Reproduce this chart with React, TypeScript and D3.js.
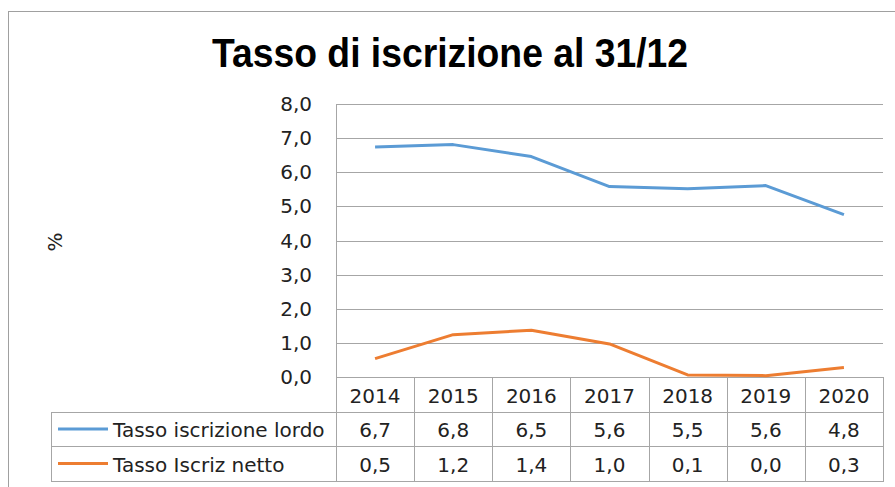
import React, { useEffect, useRef } from 'react';
import * as d3 from 'd3';

const years = ['2014', '2015', '2016', '2017', '2018', '2019', '2020'];
const lordo = [6.74, 6.81, 6.46, 5.58, 5.52, 5.61, 4.76];
const netto = [0.54, 1.24, 1.37, 0.97, 0.06, 0.04, 0.28];
const seriesNames = ['Tasso iscrizione lordo', 'Tasso Iscriz netto'];
const seriesColors = ['#5b9bd5', '#ed7d31'];
const yTicks = [0, 1, 2, 3, 4, 5, 6, 7, 8];

const W = 895;
const H = 487;

export default function App() {
    const ref = useRef<SVGSVGElement | null>(null);

    useEffect(() => {
        drawChart();
    });

    function drawChart() {
        const svg = d3.select(ref.current);
        svg.selectAll('*').remove();

        const it = d3.formatLocale({ decimal: ',', thousands: '.', grouping: [3], currency: ['', '€'] });
        const fmt = it.format('.1f');
        const font = 'DejaVu Sans, Verdana, sans-serif';
        const fs = 20;
        const txt = '#222';
        const grid = '#a6a6a6';

        // outer frame
        svg.append('rect')
            .attr('x', 8.5).attr('y', 11.5)
            .attr('width', W + 20).attr('height', H + 20)
            .attr('fill', 'none').attr('stroke', '#a0a0a0');

        // title
        svg.append('text')
            .attr('x', 450).attr('y', 67)
            .attr('text-anchor', 'middle')
            .attr('font-family', 'Liberation Sans, Arial, sans-serif')
            .attr('font-weight', 'bold')
            .attr('font-size', 40)
            .attr('textLength', 476)
            .attr('lengthAdjust', 'spacingAndGlyphs')
            .attr('fill', '#000')
            .text('Tasso di iscrizione al 31/12');

        const x = d3.scaleBand().domain(years).range([336, 883]);
        const y = d3.scaleLinear().domain([0, 8]).range([377, 104]);

        // gridlines
        svg.append('g').selectAll('line')
            .data(yTicks)
            .enter()
            .append('line')
            .attr('x1', 336).attr('x2', 883)
            .attr('y1', (d) => Math.round(y(d)) + 0.5)
            .attr('y2', (d) => Math.round(y(d)) + 0.5)
            .attr('stroke', grid);

        // plot left border
        svg.append('line')
            .attr('x1', 336.5).attr('x2', 336.5)
            .attr('y1', Math.round(y(8))).attr('y2', 481)
            .attr('stroke', grid);

        // y tick labels
        svg.append('g').selectAll('text')
            .data(yTicks)
            .enter()
            .append('text')
            .attr('x', 312)
            .attr('y', (d) => y(d))
            .attr('text-anchor', 'end')
            .attr('dominant-baseline', 'central')
            .attr('font-family', font)
            .attr('font-size', fs)
            .attr('fill', txt)
            .text((d) => fmt(d));

        // y axis title
        svg.append('text')
            .attr('transform', 'translate(62,242) rotate(-90)')
            .attr('text-anchor', 'middle')
            .attr('font-family', font)
            .attr('font-size', fs)
            .attr('fill', txt)
            .text('%');

        // lines
        const line = d3.line<number>()
            .x((_, i) => (x(years[i]) as number) + x.bandwidth() / 2)
            .y((d) => y(d));

        [lordo, netto].forEach((vals, k) => {
            svg.append('path')
                .attr('d', line(vals))
                .attr('fill', 'none')
                .attr('stroke', seriesColors[k])
                .attr('stroke-width', 3)
                .attr('stroke-linejoin', 'round');
        });

        // data table
        const rows = [377, 412, 446, 481];
        const table = svg.append('g');
        [1, 2, 3].forEach((r) => {
            table.append('line')
                .attr('x1', 51).attr('x2', 883)
                .attr('y1', rows[r] + 0.5).attr('y2', rows[r] + 0.5).attr('stroke', grid);
        });
        table.append('line')
            .attr('x1', 51.5).attr('x2', 51.5)
            .attr('y1', rows[1]).attr('y2', rows[3] + 1).attr('stroke', grid);

        table.selectAll('line.col')
            .data(years)
            .enter()
            .append('line')
            .attr('class', 'col')
            .attr('x1', (d) => Math.round((x(d) as number) + x.bandwidth()) + 0.5)
            .attr('x2', (d) => Math.round((x(d) as number) + x.bandwidth()) + 0.5)
            .attr('y1', rows[0]).attr('y2', rows[3] + 1)
            .attr('stroke', grid);

        table.selectAll('text.year')
            .data(years)
            .enter()
            .append('text')
            .attr('class', 'year')
            .attr('x', (d) => (x(d) as number) + x.bandwidth() / 2)
            .attr('y', (rows[0] + rows[1]) / 2 + 1)
            .attr('text-anchor', 'middle')
            .attr('dominant-baseline', 'central')
            .attr('font-family', font)
            .attr('font-size', fs)
            .attr('fill', txt)
            .text((d) => d);

        [lordo, netto].forEach((vals, k) => {
            const cy = (rows[k + 1] + rows[k + 2]) / 2 + 1;
            table.append('line')
                .attr('x1', 58).attr('x2', 108)
                .attr('y1', cy - 1).attr('y2', cy - 1)
                .attr('stroke', seriesColors[k])
                .attr('stroke-width', 3);
            table.append('text')
                .attr('x', 113)
                .attr('y', cy)
                .attr('dominant-baseline', 'central')
                .attr('font-family', font)
                .attr('font-size', fs)
                .attr('fill', txt)
                .text(seriesNames[k]);
            table.selectAll('text.v' + k)
                .data(vals)
                .enter()
                .append('text')
                .attr('class', 'v' + k)
                .attr('x', (_, i) => (x(years[i]) as number) + x.bandwidth() / 2)
                .attr('y', cy)
                .attr('text-anchor', 'middle')
                .attr('dominant-baseline', 'central')
                .attr('font-family', font)
                .attr('font-size', fs)
                .attr('fill', txt)
                .text((d) => fmt(d));
        });
    }

    return (
        <svg
            ref={ref}
            width={W}
            height={H}
            style={{ position: 'absolute', left: 0, top: 0, background: '#fff' }}
        />
    );
}
